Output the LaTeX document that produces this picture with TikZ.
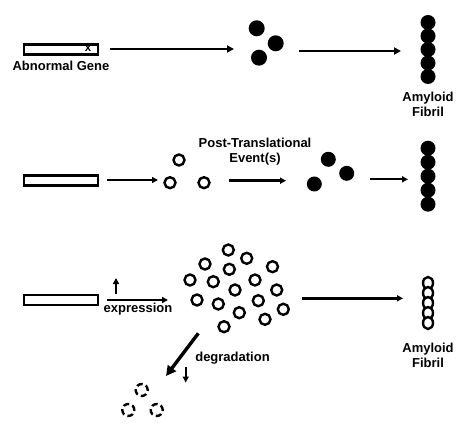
\documentclass[tikz,border=0pt]{standalone}
\usepackage{fontspec}
\setmainfont{Liberation Sans}
\usetikzlibrary{arrows.meta,shapes.geometric}
\tikzset{
  lbl/.style={font=\fontsize{13}{14}\selectfont\bfseries, inner sep=0pt, align=center},
  gene/.style={draw, line width=2.4pt, minimum width=74pt, minimum height=10pt, inner sep=0pt},
  full/.style={circle, fill=black, minimum size=#1, inner sep=0pt},
  ring/.style={circle, draw, line width=2.4pt, fill=white, minimum size=11pt, inner sep=0pt},
  fring/.style={ellipse, draw, line width=2.4pt, fill=white, minimum width=10pt, minimum height=12pt, inner sep=0pt},
  dring/.style={circle, draw, line width=2.4pt, minimum size=12pt, inner sep=0pt, dash pattern=on 6pt off 3.4pt, dash phase=1pt},
  arr/.style={line width=2.4pt, -{Triangle[length=7pt,width=7pt]}},
  sarr/.style={line width=2.4pt, -{Triangle[length=6pt,width=6pt]}},
  barr/.style={line width=3.4pt, -{Triangle[length=10pt,width=10pt]}}
}
\begin{document}
\begin{tikzpicture}[x=1pt,y=-1pt]
\useasboundingbox (0,0) rectangle (470,435);
% ---------- Row 1 ----------
\node[gene] (g1) at (61,49.5) {};
\node[font=\fontsize{11.5}{11.5}\selectfont\bfseries, inner sep=0pt] (gx) at (88,48.8) {x};
\node[lbl] (g1l) at (61,66) {Abnormal Gene};
\node[full=16pt] (r1a) at (256.7,28.3) {};
\node[full=16pt] (r1b) at (275.7,43.3) {};
\node[full=16pt] (r1c) at (259,57.7) {};
\foreach \i/\yy in {1/22.5,2/36,3/49.5,4/63,5/76.5}
  \node[full=15pt] (f1\i) at (428,\yy) {};
\node[lbl] (f1l) at (428,104) {Amyloid\\[1pt]Fibril};
\coordinate (a1s) at (110,49);
\coordinate (a1e) at (234,49);
\coordinate (a2s) at (299,51);
\coordinate (a2e) at (401,51);
\draw[arr] (a1s) -- (a1e);
\draw[arr] (a2s) -- (a2e);
% ---------- Row 2 ----------
\node[gene] (g2) at (61,180.5) {};
\node[ring] (o2a) at (179,160) {};
\node[ring] (o2b) at (170,182.7) {};
\node[ring] (o2c) at (204,182.7) {};
\node[lbl] (ptl) at (255,151.5) {Post-Translational\\[1pt]Event(s)};
\node[full=15pt] (r2a) at (328.3,159.3) {};
\node[full=15pt] (r2b) at (346.7,173.3) {};
\node[full=15pt] (r2c) at (314.3,184) {};
\foreach \i/\yy in {1/148.2,2/162.2,3/176.2,4/190.2,5/204.2}
  \node[full=15pt] (f2\i) at (428,\yy) {};
\coordinate (b1s) at (107,180);
\coordinate (b1e) at (158,180);
\coordinate (b2s) at (229,180.7);
\coordinate (b2e) at (286,180.7);
\coordinate (b3s) at (370,179.3);
\coordinate (b3e) at (408,179.3);
\draw[sarr] (b1s) -- (b1e);
\draw[sarr] (b2s) -- (b2e);
\draw[sarr] (b3s) -- (b3e);
% ---------- Row 3 ----------
\node[gene] (g3) at (61,300) {};
\coordinate (ups) at (116,294);
\coordinate (upe) at (116,278);
\draw[sarr] (ups) -- (upe);
\coordinate (c1s) at (107,300);
\coordinate (c1e) at (168,300);
\draw[sarr] (c1s) -- (c1e);
\node[lbl] (expr) at (138,309.5) {expression};
\foreach \i/\xx/\yy in {1/228.3/250,2/246.7/258.3,3/205/264,4/229.3/269.3,5/272.5/266.7,
  6/190/280,7/213.3/281.7,8/255/280,9/235/290,10/276.7/290,
  11/197/300,12/218.3/304,13/258.3/300.7,14/283.3/309.3,15/239.3/312.7,
  16/265/319.3,17/224/326.7}
  \node[ring] (k\i) at (\xx,\yy) {};
\coordinate (c2s) at (302,298.3);
\coordinate (c2e) at (403,298.3);
\draw[sarr] (c2s) -- (c2e);
\foreach \i/\yy in {1/283,2/293,3/303,4/313,5/323}
  \node[fring] (f3\i) at (428,\yy) {};
\node[lbl] (f3l) at (428,355) {Amyloid\\[1pt]Fibril};
% ---------- Degradation ----------
\coordinate (ds) at (198.3,333.3);
\coordinate (de) at (166,376);
\draw[barr] (ds) -- (de);
\coordinate (dns) at (185.7,366.5);
\coordinate (dne) at (185.7,382.5);
\draw[sarr] (dns) -- (dne);
\node[lbl] (degr) at (232.5,358.5) {degradation};
\node[dring] (d1) at (141.7,390) {};
\node[dring, rotate=90] (d2) at (128.3,410) {};
\node[dring, rotate=180] (d3) at (156.7,410) {};
\end{tikzpicture}
\end{document}
